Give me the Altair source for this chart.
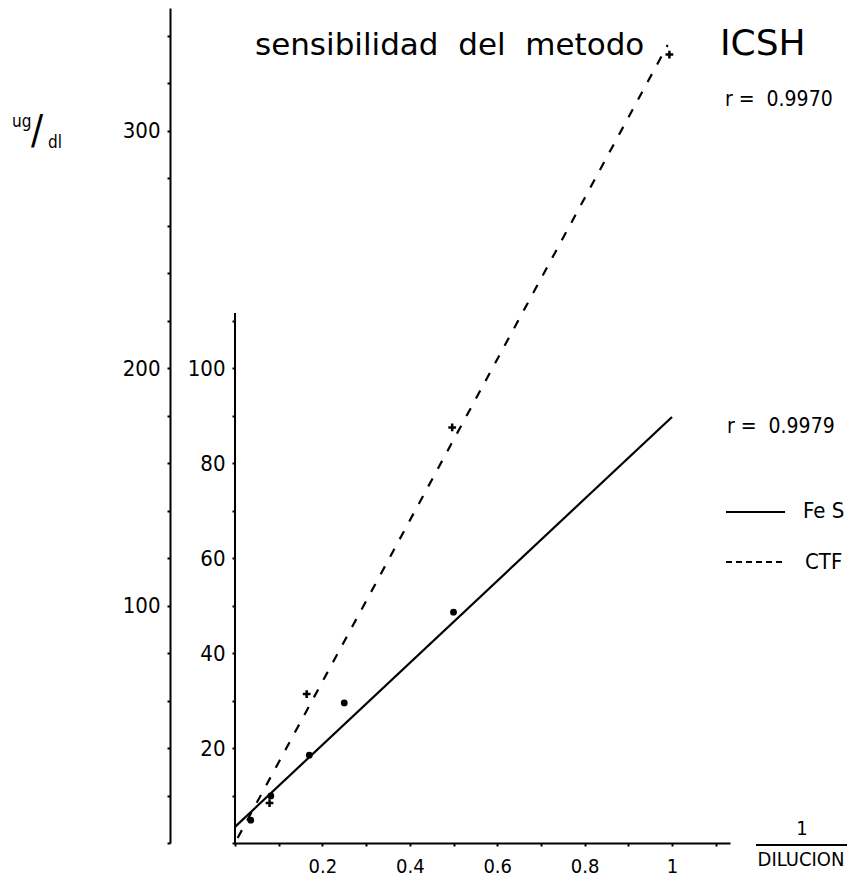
import altair as alt
import pandas as pd

# ---- data ----
fes_x = [0.036, 0.082, 0.17, 0.25, 0.5]
fes_y = [4.8, 9.9, 18.5, 29.5, 48.6]          # inner axis (0-100)
ctf_x = [0.079, 0.164, 0.497, 0.994]
ctf_y = [16.8, 62.7, 175.0, 332.0]            # outer axis ug/dl
fes_fit_x = [0.0, 1.0]
fes_fit_y = [3.4, 89.7]
ctf_fit_x = [0.006, 0.99]
ctf_fit_y = [2.1, 336.0]

x_ticks = [0, 0.1, 0.2, 0.3, 0.4, 0.5, 0.6, 0.7, 0.8, 0.9, 1.0, 1.1]
outer_ticks = [0, 20, 40, 60, 80, 100, 120, 140, 160, 180, 200, 220, 240,
               260, 280, 300, 320, 340]
inner_ticks = [0, 10, 20, 30, 40, 50, 60, 70, 80, 90, 100, 110]
inner_axis_top = [111.6]

NB = "\u00a0"
title_text = "sensibilidad" + NB + " del" + NB + " metodo"
title_code = "ICSH"
r_labels = ["r =" + NB + " 0.9970", "r =" + NB + " 0.9979"]
legend_labels = ["Fe S", "CTF"]
unit_parts = ["ug", "/", "dl"]
x_title = ["1", "DILUCION"]

NUM_FONT = "Liberation Sans Narrow, DejaVu Sans Condensed, Liberation Sans, sans-serif"
TITLE_FONT = "DejaVu Sans"

OX, OY = 235, 8   # plot origin in page pixels


def px(x):
    return alt.value(x - OX)


def py(y):
    return alt.value(y - OY)


x_enc = alt.X(
    "x:Q",
    scale=alt.Scale(domain=[0, 1.1327], nice=False, zero=True),
    axis=alt.Axis(
        values=x_ticks,
        labelExpr="datum.value > 0.15 && datum.value < 1.05 && round(datum.value*10) % 2 == 0 ? (datum.value > 0.95 ? '1' : format(datum.value, '.1f')) : ''",
        tickSize=3, tickWidth=2, tickColor="black",
        domainWidth=2, domainColor="black",
        labelColor="black", labelFont=NUM_FONT, labelFontSize=20,
        labelPadding=10, grid=False, title=None,
    ),
)

outer_axis = alt.Axis(
    orient="left", offset=65, values=outer_ticks,
    labelExpr="datum.value == 100 || datum.value == 200 || datum.value == 300 ? datum.label : ''",
    tickSize=3, tickWidth=2, tickColor="black",
    domainWidth=2, domainColor="black",
    labelColor="black", labelFont=NUM_FONT, labelFontSize=22,
    labelPadding=7, grid=False, title=None,
)
inner_axis = alt.Axis(
    orient="left", offset=0, values=inner_ticks, domain=False,
    labelExpr="datum.value > 0 && datum.value % 20 == 0 ? datum.label : ''",
    tickSize=3, tickWidth=2, tickColor="black",
    labelColor="black", labelFont=NUM_FONT, labelFontSize=22,
    labelPadding=7, grid=False, title=None,
)
outer_scale = alt.Scale(domain=[0, 351.6], nice=False, zero=True)
inner_scale = alt.Scale(domain=[0, 175.8], nice=False, zero=True)

# ---- CTF (outer scale) ----
ctf_pts = pd.DataFrame({"x": ctf_x, "y": ctf_y})
ctf_fit = pd.DataFrame({"x": ctf_fit_x, "y": ctf_fit_y})
y_outer = alt.Y("y:Q", scale=outer_scale, axis=outer_axis)

ctf_line = alt.Chart(ctf_fit).mark_line(
    color="black", strokeWidth=2.2, strokeDash=[9, 11]
).encode(x=x_enc, y=y_outer)
ctf_marks = alt.Chart(ctf_pts).mark_point(
    shape="M-1,0L1,0M0,-1L0,1", filled=False, color="black",
    strokeWidth=2.5, size=60, opacity=1
).encode(x=x_enc, y=y_outer)
ctf_layer = alt.layer(ctf_line, ctf_marks)

# ---- FeS (inner scale) ----
fes_pts = pd.DataFrame({"x": fes_x, "y": fes_y})
fes_fit = pd.DataFrame({"x": fes_fit_x, "y": fes_fit_y})
y_inner = alt.Y("y:Q", scale=inner_scale, axis=inner_axis)

fes_line = alt.Chart(fes_fit).mark_line(color="black", strokeWidth=2.2).encode(
    x=x_enc, y=y_inner)
fes_marks = alt.Chart(fes_pts).mark_point(
    shape="circle", filled=True, color="black", size=46, opacity=1
).encode(x=x_enc, y=y_inner)
inner_rule = alt.Chart(pd.DataFrame({"y": [0], "y2": inner_axis_top})).mark_rule(
    color="black", strokeWidth=2
).encode(x=alt.value(0), y=alt.Y("y:Q", scale=inner_scale, axis=inner_axis), y2="y2:Q")
fes_layer = alt.layer(inner_rule, fes_line, fes_marks)


# ---- annotations ----
def label(text, x, y, size, font=NUM_FONT, align="left", baseline="middle"):
    return alt.Chart(pd.DataFrame({"t": [text]})).mark_text(
        align=align, baseline=baseline, font=font, fontSize=size, color="black"
    ).encode(text="t:N", x=px(x), y=py(y))


def hrule(x1, x2, y, dash=None):
    kw = dict(color="black", strokeWidth=2)
    if dash:
        kw["strokeDash"] = dash
    return alt.Chart(pd.DataFrame({"k": [0]})).mark_rule(**kw).encode(
        x=px(x1), x2=px(x2), y=py(y))


annots = [
    label(title_text, 255, 55, 31, font=TITLE_FONT, baseline="alphabetic"),
    label(title_code, 720, 55, 36, font=TITLE_FONT, baseline="alphabetic"),
    label(r_labels[0], 725, 100, 21),
    label(r_labels[1], 727, 427, 21),
    hrule(726, 785, 512),
    hrule(726, 785, 562, dash=[6, 4]),
    label(legend_labels[0], 803, 511, 22),
    label(legend_labels[1], 805, 562, 22),
    label(unit_parts[0], 12, 122, 17),
    label(unit_parts[1], 31, 132, 40),
    label(unit_parts[2], 48, 143, 17),
    label(x_title[0], 802, 829, 20, align="center"),
    hrule(756, 847, 845),
    label(x_title[1], 801, 860, 20, align="center"),
]

chart = alt.layer(ctf_layer, fes_layer, *annots).resolve_scale(
    y="independent"
).properties(
    width=495, height=835,
    padding={"left": 227, "top": 0, "right": 129, "bottom": 34},
    autosize=alt.AutoSizeParams(type="none"),
).configure(background="white").configure_view(strokeWidth=0, stroke="transparent")

chart.save("out.html", embed_options={"renderer": "svg", "actions": False})
